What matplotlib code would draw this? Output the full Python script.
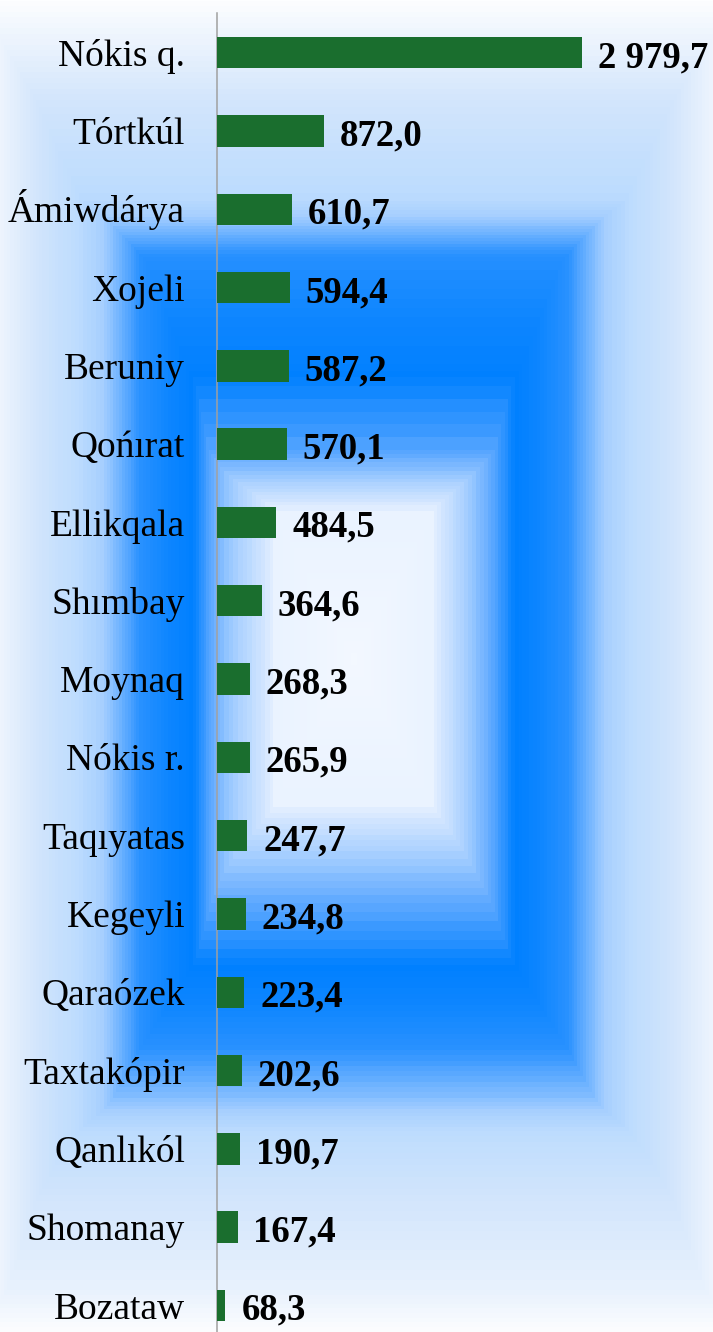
import numpy as np
import matplotlib
matplotlib.use("Agg")
import matplotlib.pyplot as plt
from matplotlib.colors import LinearSegmentedColormap

# District values
districts = ["Nókis q.", "Tórtkúl", "Ámiwdárya", "Xojeli", "Beruniy", "Qońırat",
             "Ellikqala", "Shımbay", "Moynaq", "Nókis r.", "Taqıyatas", "Kegeyli",
             "Qaraózek", "Taxtakópir", "Qanlıkól", "Shomanay", "Bozataw"]
values = [2979.7, 872.0, 610.7, 594.4, 587.2, 570.1, 484.5, 364.6, 268.3,
          265.9, 247.7, 234.8, 223.4, 202.6, 190.7, 167.4, 68.3]

W, H, DPI = 713, 1332, 100
fig = plt.figure(figsize=(W / DPI, H / DPI), dpi=DPI)

# Rectangular (box) gradient background: pale centre, blue ring, pale edges.
# Each axis gets its own pixel -> gradient-position mapping; the box shape
# comes from taking the larger of the two.
bg = fig.add_axes([0, 0, 1, 1], zorder=-10)
gx_px = [0, 58, 105, 141, 195, 218, 270, 354, 437, 490, 513, 567, 603, 650, 713]
gx_t = [2.25, 1.85, 1.6, 1.33, 1.0, 0.8, 0.55, 0.0, 0.55, 0.85, 1.0, 1.33, 1.6, 1.85, 2.25]
gy_px = [0, 50, 100, 150, 200, 225, 245, 260, 367, 380, 450, 480, 505, 659,
         813, 850, 900, 962, 1040, 1100, 1133, 1200, 1290, 1332]
gy_t = [2.4, 2.2, 2.0, 1.85, 1.72, 1.55, 1.4, 1.3, 1.05, 1.0, 0.88, 0.72, 0.55, 0.0,
        0.55, 0.7, 0.85, 1.0, 1.3, 1.55, 1.75, 2.0, 2.2, 2.4]
tx = np.interp(np.arange(W) + 0.5, gx_px, gx_t)
ty = np.interp(np.arange(H) + 0.5, gy_px, gy_t)
t = np.maximum(tx[None, :], ty[:, None])
t = np.floor(t / 0.022) * 0.022  # stepped bands
stops = [(0.0, "#F3F8FF"), (0.50, "#EAF3FF"), (0.55, "#D8E9FF"), (0.70, "#A8D0FF"),
         (0.85, "#5CA8FF"), (1.00, "#0080FF"), (1.15, "#0E86FF"), (1.33, "#2A92FF"),
         (1.40, "#4CA2FF"), (1.60, "#A6CFFF"), (1.75, "#BFDDFE"), (2.00, "#D4E6FC"),
         (2.15, "#E4EFFD"), (2.40, "#FDFEFF")]
tmax = stops[-1][0]
cmap = LinearSegmentedColormap.from_list("box", [(p / tmax, c) for p, c in stops])
bg.imshow(np.clip(t / tmax, 0, 1), cmap=cmap, vmin=0, vmax=1,
          aspect="auto", interpolation="nearest", extent=[0, W, H, 0])
bg.set_axis_off()

# Bar chart
left_px, top_px, row_px = 217, 13.5, 78.3
ax = fig.add_axes([left_px / W, 0, (W - left_px) / W, (H - top_px) / H])
ax.set_facecolor("none")
px_per_unit = 365 / 2979.7
ax.set_xlim(0, (W - left_px) / px_per_unit)
ax.set_ylim(-0.5 + (H - top_px) / row_px, -0.5)

y = np.arange(len(districts))
ax.barh(y, values, height=0.40, color="#1A6E2E", zorder=3)

serif = ["Liberation Serif", "DejaVu Serif"]
for i, (name, v) in enumerate(zip(districts, values)):
    ax.annotate(name, xy=(0, i), xytext=(-23, -9.4), textcoords="offset points",
                ha="right", va="baseline", fontsize=27, family=serif,
                color="#000000", annotation_clip=False)
    txt = f"{v:,.1f}".replace(",", " ").replace(".", ",")
    ax.annotate(txt, xy=(v, i), xytext=(11.5, -10.4), textcoords="offset points",
                ha="left", va="baseline", fontsize=26.5, family=serif,
                fontweight="bold", color="#000000", annotation_clip=False)

for side in ["top", "right", "bottom"]:
    ax.spines[side].set_visible(False)
ax.spines["left"].set_color("#A0A0A0")
ax.spines["left"].set_linewidth(1.1)
ax.set_xticks([])
ax.set_yticks([])

fig.savefig("out.png", dpi=DPI)
